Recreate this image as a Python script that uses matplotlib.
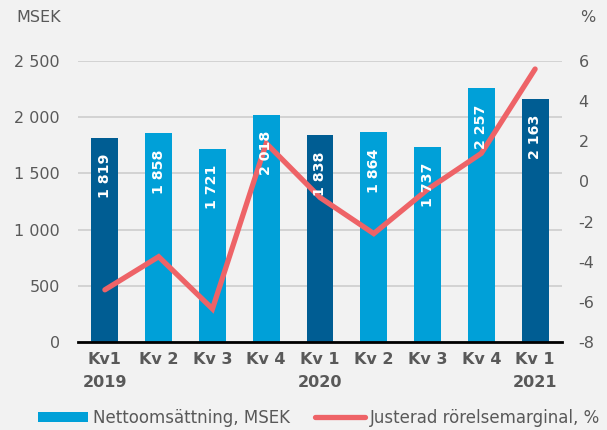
import matplotlib
matplotlib.use("Agg")
import matplotlib.pyplot as plt
from matplotlib.patches import Patch
from matplotlib.lines import Line2D

categories = ["Kv1\n2019", "Kv 2", "Kv 3", "Kv 4", "Kv 1\n2020", "Kv 2", "Kv 3", "Kv 4", "Kv 1\n2021"]
net_sales = [1819, 1858, 1721, 2018, 1838, 1864, 1737, 2257, 2163]
adj_margin = [-5.4, -3.75, -6.35, 1.9, -0.8, -2.6, -0.4, 1.4, 5.6]
left_ticks = [0, 500, 1000, 1500, 2000, 2500]
right_ticks = [-8, -6, -4, -2, 0, 2, 4, 6]

DARK = "#005d93"
LIGHT = "#00a0d8"
RED = "#ee6367"
TEXT = "#595959"
BG = "#f2f2f2"

plt.rcParams["font.family"] = ["DejaVu Sans"]

fig = plt.figure(figsize=(6.07, 4.30), dpi=100, facecolor=BG)
ax = fig.add_axes([78/607, 1-342/430, (562-78)/607, (342-61)/430])
ax.set_facecolor(BG)
ax2 = ax.twinx()

x = list(range(len(categories)))
colors = [DARK if c.startswith("Kv1") or c.startswith("Kv 1") else LIGHT for c in categories]
ax.bar(x, net_sales, width=0.5, color=colors, zorder=2)

ax.set_xlim(-0.5, len(categories) - 0.5)
ax.set_ylim(0, 2500)
ax.set_yticks(left_ticks)
ax.set_yticklabels([f"{v:,}".replace(",", " ") for v in left_ticks])
ax.yaxis.grid(True, color="#d0d0d0", linewidth=1.3, zorder=0)
ax.set_axisbelow(True)
for s in ["top", "left", "right"]:
    ax.spines[s].set_visible(False)
ax.spines["bottom"].set_color("black")
ax.spines["bottom"].set_linewidth(2)
ax.spines["bottom"].set_zorder(5)
ax.tick_params(axis="y", length=0, pad=13, labelsize=11.5, labelcolor=TEXT)
ax.set_xticks(x)
ax.set_xticklabels(categories, fontweight="bold", fontsize=11.5, color=TEXT, linespacing=1.7)
ax.tick_params(axis="x", length=0, pad=7)

ax2.plot(x, adj_margin, color=RED, linewidth=3.8, solid_capstyle="round", solid_joinstyle="miter", zorder=3)
ax2.set_ylim(-8, 6)
ax2.set_yticks(right_ticks)
ax2.set_yticklabels([str(v) for v in right_ticks])
ax2.tick_params(axis="y", length=0, pad=12, labelsize=11.5, labelcolor=TEXT)
for s in ["top", "left", "right", "bottom"]:
    ax2.spines[s].set_visible(False)

for xi, v in zip(x, net_sales):
    ax2.annotate(f"{v:,}".replace(",", " "), xy=(xi, v), xycoords=ax.transData,
                 xytext=(0, -11.5), textcoords="offset points",
                 rotation=90, ha="center", va="top", color="white",
                 fontweight="bold", fontsize=10.2, zorder=6)

fig.text(16/607, 1-18/430, "MSEK", fontsize=11.5, color=TEXT, va="center", ha="left")
fig.text(580/607, 1-18/430, "%", fontsize=11.5, color=TEXT, va="center", ha="left")

handles = [Patch(facecolor=LIGHT, edgecolor="none"),
           Line2D([0], [0], color=RED, linewidth=3.8, solid_capstyle="round")]
leg = fig.legend(handles, ["Nettoomsättning, MSEK", "Justerad rörelsemarginal, %"],
                 loc="center", bbox_to_anchor=(319/607, 1-418/430), ncol=2, frameon=False,
                 fontsize=12, labelcolor=TEXT, handlelength=3.0, handleheight=0.6,
                 handletextpad=0.3, columnspacing=1.5)

fig.savefig("out.png", dpi=100, facecolor=BG)
